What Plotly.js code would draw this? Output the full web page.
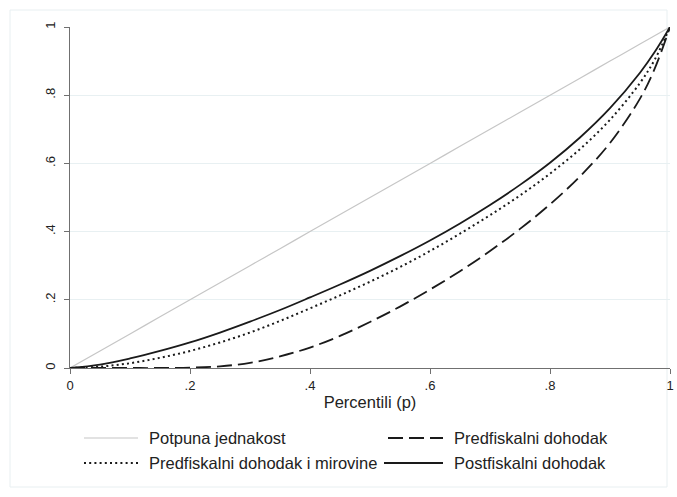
<!DOCTYPE html>
<html>
<head>
<meta charset="utf-8">
<script src="https://cdn.plot.ly/plotly-3.0.1.min.js"></script>
<style>html,body{margin:0;padding:0;background:#fff;}#chart{width:677px;height:497px;}</style>
</head>
<body>
<div id="chart"></div>
<script>
const percentiles = [0, 0.05, 0.1, 0.15, 0.2, 0.25, 0.3, 0.35, 0.4, 0.45, 0.5, 0.55, 0.6, 0.65, 0.7, 0.75, 0.8, 0.85, 0.9, 0.95, 0.975, 1];
const equality = [0, 0.05, 0.1, 0.15, 0.2, 0.25, 0.3, 0.35, 0.4, 0.45, 0.5, 0.55, 0.6, 0.65, 0.7, 0.75, 0.8, 0.85, 0.9, 0.95, 0.975, 1];
const preFiscal = [0, 0, 0, 0, 0.001, 0.005, 0.015, 0.034, 0.06, 0.094, 0.135, 0.18, 0.23, 0.284, 0.343, 0.408, 0.48, 0.562, 0.66, 0.79, 0.88, 1];
const preFiscalPensions = [0, 0.004, 0.014, 0.03, 0.05, 0.075, 0.104, 0.138, 0.175, 0.213, 0.253, 0.296, 0.343, 0.394, 0.448, 0.506, 0.57, 0.642, 0.728, 0.836, 0.906, 1];
const postFiscal = [0, 0.01, 0.028, 0.05, 0.075, 0.104, 0.136, 0.17, 0.207, 0.245, 0.285, 0.328, 0.374, 0.424, 0.478, 0.537, 0.602, 0.676, 0.762, 0.866, 0.928, 1];
const tickVals = [0, 0.2, 0.4, 0.6, 0.8, 1];
const tickText = ["0", ".2", ".4", ".6", ".8", "1"];
const seriesNames = ["Potpuna jednakost", "Predfiskalni dohodak", "Predfiskalni dohodak i mirovine", "Postfiskalni dohodak"];

const dark = "#1a1a1a";
const styles = [
  {color: "#c6c6c6", width: 1.2, dash: "solid"},
  {color: dark, width: 1.8, dash: "15px,6px"},
  {color: dark, width: 2, dash: "2px,3.2px"},
  {color: dark, width: 1.8, dash: "solid"}
];
const ys = [equality, preFiscal, preFiscalPensions, postFiscal];

const traces = ys.map((y, i) => ({
  x: percentiles, y: y, type: "scatter", mode: "lines", name: seriesNames[i],
  line: {color: styles[i].color, width: styles[i].width, dash: styles[i].dash, shape: "spline", smoothing: 1},
  cliponaxis: false, hoverinfo: "skip"
}));

// plot area: px 70..670 horizontally, 27..368 vertically
const W = 600, H = 341;
function px(x) { return (x - 70) / W; }
function py(y) { return (368 - y) / H; }

const shapes = [
  {type: "rect", xref: "paper", yref: "paper", x0: px(10), x1: px(667), y0: py(487), y1: py(10),
   line: {color: "#e8eff1", width: 1}, fillcolor: "rgba(0,0,0,0)", layer: "below"}
];
const annotations = [];
const legendPos = [
  {x0: 84, x1: 138, y: 438, tx: 147},
  {x0: 388, x1: 443, y: 438, tx: 452},
  {x0: 84, x1: 138, y: 463, tx: 147},
  {x0: 384, x1: 443, y: 463, tx: 452}
];
legendPos.forEach((p, i) => {
  shapes.push({type: "line", xref: "paper", yref: "paper", x0: px(p.x0), x1: px(p.x1), y0: py(p.y), y1: py(p.y),
    line: {color: styles[i].color, width: styles[i].width, dash: styles[i].dash}});
  annotations.push({xref: "paper", yref: "paper", x: px(p.tx), y: py(p.y), xanchor: "left", yanchor: "middle",
    text: seriesNames[i], showarrow: false, font: {family: "Liberation Sans, Arial, sans-serif", size: 16.5, color: "#222"}});
});

const axisCommon = {
  range: [0, 1], tickvals: tickVals, ticktext: tickText, showline: true, linecolor: "#707070", linewidth: 1,
  ticks: "outside", ticklen: 5, tickcolor: "#707070", tickwidth: 1, zeroline: false, fixedrange: true,
  tickfont: {family: "Liberation Sans, Arial, sans-serif", size: 13, color: "#222"}
};

const layout = {
  width: 677, height: 497,
  margin: {l: 70, r: 7, t: 27, b: 129, pad: 0},
  paper_bgcolor: "#ffffff", plot_bgcolor: "#ffffff",
  showlegend: false,
  xaxis: Object.assign({}, axisCommon, {showgrid: false,
    title: {text: "Percentili (p)", standoff: 4, font: {family: "Liberation Sans, Arial, sans-serif", size: 16.5, color: "#222"}}}),
  yaxis: Object.assign({}, axisCommon, {showgrid: true, gridcolor: "#e8f0f2", gridwidth: 1, tickangle: -90, ticklabelstandoff: 4}),
  shapes: shapes,
  annotations: annotations
};

Plotly.newPlot("chart", traces, layout, {staticPlot: true, displayModeBar: false});
</script>
</body>
</html>
